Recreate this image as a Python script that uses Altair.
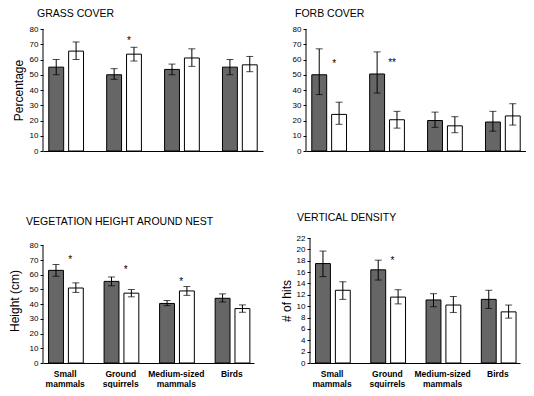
import altair as alt
import pandas as pd

categories = ["Small mammals", "Ground squirrels", "Medium-sized mammals", "Birds"]
label_lines = [["Small", "mammals"], ["Ground", "squirrels"], ["Medium-sized", "mammals"], ["Birds"]]
groups = ["dark", "white"]

# GRASS COVER
grass_dark = [55, 50, 53.5, 55]
grass_dark_lo = [50, 47, 50, 50]
grass_dark_hi = [60, 54, 57, 60]
grass_white = [65.5, 63.5, 61, 56.5]
grass_white_lo = [60, 59, 55.5, 52]
grass_white_hi = [71.5, 68, 67, 62]
grass_stars = [("Ground squirrels", 72, "*")]

# FORB COVER
forb_dark = [50, 50.5, 20, 19]
forb_dark_lo = [37, 38, 15.5, 13]
forb_dark_hi = [67, 65, 25.5, 26]
forb_white = [24, 20.5, 16.5, 23]
forb_white_lo = [17.5, 15, 12, 17]
forb_white_hi = [32, 26, 22.5, 31]
forb_stars = [("Small mammals", 57, "*"), ("Ground squirrels", 58, "**")]

# VEGETATION HEIGHT AROUND NEST
veg_dark = [63, 55.5, 40.5, 44]
veg_dark_lo = [59, 52.5, 39, 41.5]
veg_dark_hi = [67, 58.5, 42.5, 47]
veg_white = [51, 47.5, 49, 37]
veg_white_lo = [48, 45, 46, 34.5]
veg_white_hi = [54.5, 50, 52, 39.5]
veg_stars = [("Small mammals", 70, "*"), ("Ground squirrels", 63, "*"), ("Medium-sized mammals", 55, "*")]

# VERTICAL DENSITY
vd_dark = [17.5, 16.4, 11.1, 11.2]
vd_dark_lo = [15.2, 14.6, 9.9, 9.6]
vd_dark_hi = [19.7, 18.1, 12.2, 12.8]
vd_white = [12.8, 11.6, 10.2, 9.0]
vd_white_lo = [11.2, 10.4, 8.9, 7.9]
vd_white_hi = [14.3, 12.9, 11.7, 10.2]
vd_stars = [("Ground squirrels", 18, "*")]

FONT = "Liberation Sans"

label_expr = " : ".join(
    f"datum.value == '{c}' ? [{', '.join(repr(p) for p in lines)}]"
    for c, lines in zip(categories, label_lines)
) + " : datum.value"


def panel(title, ytitle, axis_top, scale_top, ystep, dark, dark_lo, dark_hi, white, white_lo,
          white_hi, stars, width, height, show_x, title_offset, title_dx, title_pad):
    rows = []
    for i, c in enumerate(categories):
        rows.append(dict(cat=c, grp="dark", v=dark[i], lo=dark_lo[i], hi=dark_hi[i]))
        rows.append(dict(cat=c, grp="white", v=white[i], lo=white_lo[i], hi=white_hi[i]))
    df = pd.DataFrame(rows)
    sdf = pd.DataFrame([dict(cat=c, sy=y, txt=t) for c, y, t in stars])
    adf = pd.DataFrame({"a0": [0], "a1": [axis_top]})

    xaxis = alt.Axis(title=None, labels=show_x, ticks=False, labelAngle=0,
                     labelExpr=label_expr, domainColor="black", labelFontSize=8.5,
                     labelFontWeight="bold", labelPadding=6, labelLineHeight=10.5,
                     labelColor="black")
    xscale = alt.Scale(paddingInner=0.4, paddingOuter=0.1)

    def X():
        return alt.X("cat:N", sort=categories, scale=xscale, axis=xaxis)

    def XO():
        return alt.XOffset("grp:N", sort=groups,
                           scale=alt.Scale(domain=groups, paddingInner=0.25, paddingOuter=0))

    yaxis = alt.Axis(values=list(range(0, axis_top + 1, ystep)), title=ytitle, grid=False,
                     domain=False, tickSize=3, tickColor="black",
                     labelFontSize=8, labelColor="black", titleFontSize=12,
                     titleFontWeight="normal", titleColor="black", titlePadding=title_pad)
    yscale = alt.Scale(domain=[0, scale_top], nice=False)

    def Y(f):
        return alt.Y(f, scale=yscale, axis=yaxis)

    base = alt.Chart(df)
    bars = base.mark_bar(stroke="black", strokeWidth=1).encode(
        x=X(), xOffset=XO(), y=Y("v:Q"),
        fill=alt.Fill("grp:N", scale=alt.Scale(domain=groups, range=["#666666", "white"]), legend=None),
    )
    rules = base.mark_rule(color="black", strokeWidth=1).encode(
        x=X(), xOffset=XO(), y=Y("lo:Q"), y2="hi:Q")
    cap_lo = base.mark_tick(color="black", size=7, thickness=1).encode(
        x=X(), xOffset=XO(), y=Y("lo:Q"))
    cap_hi = base.mark_tick(color="black", size=7, thickness=1).encode(
        x=X(), xOffset=XO(), y=Y("hi:Q"))
    star = alt.Chart(sdf).mark_text(fontSize=10, dx=5, baseline="middle", color="black").encode(
        x=X(), y=Y("sy:Q"), text="txt:N")
    axis_line = alt.Chart(adf).mark_rule(color="black", strokeWidth=1).encode(
        x=alt.value(0), y=Y("a0:Q"), y2="a1:Q")

    return alt.layer(bars, rules, cap_lo, cap_hi, star, axis_line).properties(
        width=width, height=height,
        title=alt.TitleParams(title, anchor="start", frame="group", fontSize=10.5,
                              fontWeight="normal", offset=title_offset, dx=title_dx,
                              color="black"),
    )


p1 = panel("GRASS COVER", "Percentage", 80, 80, 10, grass_dark, grass_dark_lo, grass_dark_hi,
           grass_white, grass_white_lo, grass_white_hi, grass_stars, 220, 122, False, 6, -6, 4)
p2 = panel("FORB COVER", None, 80, 80, 10, forb_dark, forb_dark_lo, forb_dark_hi,
           forb_white, forb_white_lo, forb_white_hi, forb_stars, 220, 122, False, 6, -11, 4)
p3 = panel("VEGETATION HEIGHT AROUND NEST", "Height (cm)", 80, 85, 10, veg_dark, veg_dark_lo,
           veg_dark_hi, veg_white, veg_white_lo, veg_white_hi, veg_stars, 211, 125, True, 11, -17, 8)
p4 = panel("VERTICAL DENSITY", "# of hits", 22, 22, 2, vd_dark, vd_dark_lo, vd_dark_hi,
           vd_white, vd_white_lo, vd_white_hi, vd_stars, 210, 125, True, 11, -13, 3)

chart = alt.vconcat(
    alt.hconcat(p1, p2, spacing=29),
    alt.hconcat(p3, p4, spacing=26),
    spacing=57,
).properties(padding=0).configure(font=FONT).configure_view(stroke=None)

chart.save("out.html", embed_options={"renderer": "svg", "actions": False})
